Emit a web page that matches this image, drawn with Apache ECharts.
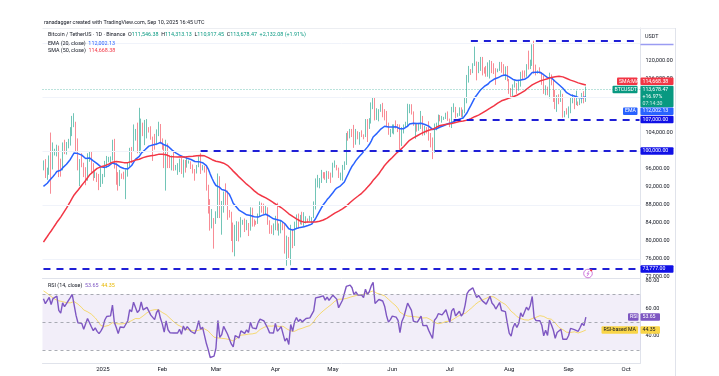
<!DOCTYPE html>
<html><head><meta charset="utf-8">
<script src="https://cdn.jsdelivr.net/npm/echarts@6/dist/echarts.min.js"></script>
<style>html,body{margin:0;padding:0;background:#fff}#c{width:719px;height:376px}</style>
</head><body><div id="c"></div>
<script>
const FONT = 'Roboto, "Liberation Sans", sans-serif';
const K = 1000;
// Daily closes before the visible range (12 Oct - 30 Nov 2024), only used to warm up EMA/SMA/RSI (thousand USDT)
const priorCloses = [63.2,62.9,66.0,67.0,67.6,67.4,68.4,68.4,69.0,67.4,67.4,66.7,68.2,66.6,67.0,67.9,69.9,72.7,72.3,70.2,
69.5,69.4,68.8,67.8,69.4,75.6,75.9,76.5,76.7,80.4,88.7,88.0,90.5,87.4,91.1,90.6,89.9,90.5,92.3,94.3,98.4,98.9,97.7,98.0,93.0,91.9,95.9,95.6,97.5,96.4];
const firstOpen = 96.4;
// Visible daily candles, 1 Dec 2024 - 10 Sep 2025 (thousand USDT); open = previous close
const closes = [
97.2,95.9,96.0,98.8,97.0,99.9,99.9,101.1,97.4,96.6,101.1,100.0,101.4,101.4,104.3,106.1,106.1,100.2,97.5,97.8,97.3,95.1,94.7,98.7,99.4,95.8,94.2,95.1,93.7,92.8,93.6,
94.6,96.9,98.1,98.2,98.3,102.1,96.9,95.0,92.5,94.7,94.6,94.5,94.5,96.5,100.5,99.9,104.1,104.5,101.3,102.2,106.1,103.7,103.9,104.8,104.7,102.6,102.1,101.3,103.7,104.7,102.4,
100.6,97.7,101.4,97.9,96.6,96.6,96.5,96.5,96.5,97.4,95.8,97.9,96.6,97.5,97.6,96.1,95.8,95.5,96.6,98.3,96.1,96.6,96.3,91.5,88.7,84.3,84.7,84.4,
86.1,94.3,86.1,87.2,90.6,89.9,86.7,86.2,80.7,78.5,82.9,83.7,81.1,84.0,84.3,82.6,84.0,82.7,86.8,84.2,84.1,83.8,86.1,87.5,87.4,86.9,87.2,84.4,82.6,82.4,82.5,
85.2,82.5,83.1,83.8,83.5,78.4,79.2,76.3,82.6,79.6,83.4,85.3,83.7,84.6,83.6,84.0,84.9,84.5,85.1,85.2,87.5,93.4,93.7,93.9,94.7,94.6,93.7,95.0,94.3,94.2,
96.5,96.9,96.0,94.3,94.7,96.8,97.0,103.2,102.9,104.6,104.1,102.8,104.1,103.5,103.7,103.6,103.2,106.5,105.6,106.8,109.6,111.7,107.3,107.8,109.0,109.4,108.9,107.8,105.6,103.9,104.6,
105.6,105.8,105.4,104.7,101.5,104.3,105.6,105.7,110.3,110.3,108.6,105.7,106.1,105.4,105.6,107.1,104.6,104.9,104.6,103.3,102.1,100.9,105.3,106.0,107.3,106.9,107.0,107.3,108.4,107.1,
105.7,108.8,109.6,107.9,108.2,109.2,108.2,108.9,111.3,115.9,117.5,117.4,119.1,119.8,117.7,118.6,119.2,117.9,117.8,117.3,117.4,119.9,118.7,118.3,117.6,117.9,119.4,118.0,117.8,117.8,115.7,
113.3,112.5,114.2,115.1,114.1,115.0,117.5,116.7,116.5,119.3,118.7,120.1,123.3,118.3,117.4,117.5,117.4,116.2,112.9,114.3,112.5,116.9,115.4,113.5,110.1,111.8,111.3,112.6,108.4,108.8,108.2,
109.2,111.2,111.7,110.7,110.7,110.2,111.1,112.1,111.546,113.678];
const highs = [
97.9,98.2,96.3,99.0,104.1,101.9,100.5,101.4,101.2,98.3,101.9,102.5,102.0,102.7,105.3,107.8,108.4,106.5,102.8,98.2,99.5,97.4,96.4,99.5,99.9,99.9,97.3,95.5,95.2,94.9,96.2,
94.9,97.8,98.9,98.7,98.8,102.5,102.7,97.3,95.3,95.8,95.0,95.4,95.9,97.4,100.7,100.9,105.9,104.9,106.3,109.6,107.2,106.3,106.9,107.1,105.3,105.5,103.2,103.8,104.8,106.5,106.0,
102.8,101.5,102.5,101.7,99.0,99.0,100.1,96.9,97.3,98.3,98.5,98.1,98.0,98.8,97.9,97.7,97.0,96.0,96.9,98.8,99.5,96.9,96.7,96.5,92.5,89.3,87.1,85.1,
86.6,95.0,94.4,88.9,91.0,92.8,91.2,86.9,86.5,84.1,83.6,84.4,84.3,85.3,84.7,85.0,84.7,84.0,87.5,87.4,84.8,84.5,86.1,88.8,88.5,88.3,87.8,87.5,84.6,83.5,83.9,
85.6,88.5,83.9,84.7,84.2,83.8,81.2,80.9,83.6,82.7,84.3,85.9,86.1,85.8,86.5,86.4,85.5,85.0,85.6,85.3,88.8,93.9,94.7,94.0,95.8,95.3,95.3,95.6,95.5,95.2,
97.4,97.9,96.9,96.3,95.2,96.9,97.7,104.0,104.4,104.9,104.9,105.8,104.9,104.4,104.2,104.6,103.7,107.1,107.1,107.3,110.8,112.0,111.9,109.5,109.3,110.4,110.7,109.3,108.9,106.3,104.9,
105.9,105.9,106.8,106.0,105.9,105.3,105.9,106.5,110.5,110.4,110.4,108.8,106.2,106.2,106.0,108.9,107.8,105.6,105.3,106.6,104.0,103.0,106.1,106.3,108.1,108.0,107.8,107.6,108.5,108.8,
107.2,109.8,110.6,109.8,108.4,109.7,109.7,109.2,111.9,116.9,118.9,118.2,119.5,123.2,119.9,119.8,120.9,120.9,118.6,118.9,119.7,120.2,120.0,119.5,118.4,118.3,119.8,119.8,119.3,118.8,118.9,
116.0,114.0,114.8,115.7,115.1,115.7,117.6,117.9,117.9,119.3,122.3,120.3,123.7,124.5,119.2,117.9,118.6,117.5,116.8,114.6,114.3,117.4,117.0,115.8,113.6,112.4,112.6,113.5,112.7,108.9,109.5,
109.9,111.8,112.6,112.2,113.4,111.0,111.6,112.9,113.3,114.313];
const lows = [
95.7,94.0,93.6,94.7,90.5,95.9,99.0,98.8,94.2,94.3,95.7,99.3,99.2,100.6,101.2,103.3,105.3,100.0,95.7,92.2,96.4,94.2,92.4,93.4,97.6,95.2,93.4,94.0,93.1,91.3,92.0,
92.7,94.2,96.2,97.5,97.3,97.9,96.1,92.5,91.2,92.2,93.8,93.7,89.3,94.3,96.5,97.3,99.9,102.3,99.5,99.5,100.1,103.3,101.3,102.8,104.1,102.5,97.8,100.3,101.3,103.3,101.6,
100.3,96.2,91.2,96.2,96.2,95.7,95.6,95.7,94.7,95.3,94.9,94.1,95.2,96.3,97.2,96.0,95.0,93.4,95.0,96.4,94.9,95.7,95.2,91.2,86.1,82.3,82.8,78.3,
83.8,85.1,85.1,81.4,86.3,87.8,84.7,85.2,80.0,77.5,76.6,80.0,79.9,80.8,83.6,82.0,82.4,81.1,82.3,83.2,83.2,83.6,83.8,85.5,86.3,85.9,85.8,83.6,81.6,81.6,81.3,
82.4,82.3,81.2,81.7,82.4,77.2,74.5,76.2,74.6,78.4,78.9,82.7,82.8,83.7,83.6,83.1,83.9,84.1,84.4,83.9,85.1,87.0,91.9,91.7,92.9,93.9,93.6,92.9,93.8,92.9,
94.1,96.3,95.7,94.0,93.5,93.4,95.8,96.9,102.3,102.8,103.1,100.7,101.4,102.6,101.4,103.1,102.6,103.1,102.0,104.9,106.1,109.3,106.8,106.9,106.6,108.7,107.5,106.8,105.3,103.6,103.1,
103.9,103.7,105.0,104.2,100.4,101.1,103.9,105.1,105.3,108.4,108.1,105.6,102.7,104.3,104.5,104.9,103.4,103.5,103.9,102.3,100.8,98.2,99.6,104.6,105.5,106.6,106.3,106.9,107.1,106.7,
105.3,105.1,108.6,107.3,107.6,107.8,107.5,107.4,108.4,110.6,115.2,116.9,117.3,118.9,115.7,117.3,117.8,116.8,117.2,116.5,116.5,116.1,117.3,117.1,114.7,117.5,117.8,117.4,116.9,115.8,115.5,
112.7,112.0,112.2,114.1,112.7,113.4,114.3,115.9,116.3,116.5,118.1,118.2,118.9,117.2,116.8,117.2,117.2,114.7,112.7,112.4,112.4,111.7,114.6,110.9,109.3,108.7,110.4,110.9,107.4,107.5,108.1,
107.3,108.4,110.6,109.3,110.2,110.0,110.2,110.6,110.6,110.917];

const priceTicks = [72000,76000,80000,84000,88000,92000,96000,100000,104000,116000,120000];
const gridPrices = [76000,88000,100000,112000,124000];
const rsiTicks = [40,60,80];
const rsiLevels = [70,50,30];
const monthTicks = ['2025','Feb','Mar','Apr','May','Jun','Jul','Aug','Sep','Oct'];
const levelLines = [
  {value:124474, from:'2025-07-12', tag:null},
  {value:107000, from:'2025-07-03', tag:'107,000.00'},
  {value:100000, from:'2025-02-21', tag:'100,000.00'},
  {value:73777,  from:'2024-12-01', tag:'73,777.00'}
];
const lastPrice = 113678.47, lastSMA = 114668.38, lastEMA = 112002.13, lastRSI = 53.65, lastRSIMA = 44.35;

// categories: one per day, through 8 Oct 2025 (empty future space)
const categories = [];
for (let t = Date.UTC(2024,11,1); t <= Date.UTC(2025,9,8); t += 86400000) categories.push(new Date(t).toISOString().slice(0,10));
const lastIdx = categories.length - 1;

const candles = closes.map((c,i) => [(i === 0 ? firstOpen : closes[i-1]) * K, c * K, lows[i] * K, highs[i] * K]);

// indicators
const all = priorCloses.concat(closes);
const P = priorCloses.length;
function sma(arr, n) { return arr.map((v,i) => { if (i < n-1) return null; let s = 0, ok = true; for (let j = i-n+1; j <= i; j++) { if (arr[j] == null) ok = false; s += arr[j]; } return ok ? s/n : null; }); }
function ema(arr, n) { const a = 2/(n+1); let e = null; return arr.map((v,i) => { if (i < n-1) return null; if (i === n-1) { e = arr.slice(0,n).reduce((s,x)=>s+x,0)/n; return e; } e = a*v + (1-a)*e; return e; }); }
function rsi(arr, n) { const out = [null]; let ag = 0, al = 0; for (let i = 1; i < arr.length; i++) { const d = arr[i]-arr[i-1]; const g = Math.max(d,0), l = Math.max(-d,0); if (i <= n) { ag += g/n; al += l/n; out.push(i === n ? 100 - 100/(1+ag/al) : null); } else { ag = (ag*(n-1)+g)/n; al = (al*(n-1)+l)/n; out.push(al === 0 ? 100 : 100 - 100/(1+ag/al)); } } return out; }
const ema20 = ema(all, 20).slice(P).map(v => v * K);
const sma50 = sma(all, 50).slice(P).map(v => v * K);
const rsiAll = rsi(all, 14);
const rsi14 = rsiAll.slice(P);
const rsiMA = sma(rsiAll, 14).slice(P);

const fmt = v => v.toLocaleString('en-US', {minimumFractionDigits:2, maximumFractionDigits:2});
const LEVEL_COLOR = '#1f1fd6';

const option = {
  animation: false,
  backgroundColor: '#ffffff',
  grid: [
    {left: 42.5, top: 28, width: 598, height: 250},
    {left: 42.5, top: 278, width: 598, height: 85}
  ],
  xAxis: [
    {type:'category', gridIndex:0, data:categories, boundaryGap:true,
     axisLabel:{show:false}, axisTick:{show:false}, splitLine:{show:false},
     axisLine:{show:true, lineStyle:{color:'#e0e3eb', width:1}}},
    {type:'category', gridIndex:1, data:categories, boundaryGap:true,
     axisTick:{show:false}, splitLine:{show:false},
     axisLine:{show:true, lineStyle:{color:'#e0e3eb', width:1}},
     axisLabel:{interval:(i,v) => i > 0 && v.slice(8) === '01', formatter:v => monthTicks[+v.slice(5,7)-1],
       fontSize:6, color:'#131722', margin:3, fontFamily:FONT}}
  ],
  yAxis: [
    {type:'value', gridIndex:0, position:'right', min:71778, max:127333,
     axisLine:{show:true, lineStyle:{color:'#e0e3eb'}}, axisTick:{show:false}, splitLine:{show:false},
     axisLabel:{customValues:priceTicks, formatter:v => fmt(v), fontSize:5.5, color:'#131722', margin:5, fontFamily:FONT}},
    {type:'value', gridIndex:1, position:'right', min:20.67, max:81.7,
     axisLine:{show:true, lineStyle:{color:'#e0e3eb'}}, axisTick:{show:false}, splitLine:{show:false},
     axisLabel:{customValues:rsiTicks, formatter:v => v.toFixed(2), fontSize:5.5, color:'#131722', margin:5, fontFamily:FONT}}
  ],
  series: [
    {type:'line', xAxisIndex:0, yAxisIndex:0, data:[null], silent:true, z:1,
     markLine:{symbol:['none','none'], silent:true, label:{show:false},
       lineStyle:{color:'#f0f3fa', width:1, type:'solid'},
       data: gridPrices.map(v => ({yAxis:v}))}},
    {type:'candlestick', xAxisIndex:0, yAxisIndex:0, data:candles, barWidth:1, z:2,
     itemStyle:{color:'#089981', color0:'#f23645', borderColor:'#089981', borderColor0:'#f23645', borderWidth:0.8, opacity:0.72},
     markLine:{symbol:['none','none'], silent:true, label:{show:false},
       lineStyle:{color:LEVEL_COLOR, width:2, type:[7,6]},
       data: [{yAxis:lastPrice, lineStyle:{type:[1,2], color:'#089981', width:1, opacity:0.55}}].concat(
         levelLines.map(l => [{coord:[categories.indexOf(l.from), l.value]}, {coord:[lastIdx, l.value]}]))}},
    {type:'line', name:'EMA', xAxisIndex:0, yAxisIndex:0, data:ema20, showSymbol:false, z:3,
     lineStyle:{color:'#2962ff', width:1.5}},
    {type:'line', name:'SMA', xAxisIndex:0, yAxisIndex:0, data:sma50, showSymbol:false, z:3,
     lineStyle:{color:'#f23645', width:1.5}},
    {type:'line', name:'RSI-MA', xAxisIndex:1, yAxisIndex:1, data:rsiMA, showSymbol:false, z:3,
     lineStyle:{color:'#f7c600', width:1, opacity:0.55}},
    {type:'line', name:'RSI', xAxisIndex:1, yAxisIndex:1, data:rsi14, showSymbol:false, z:4,
     lineStyle:{color:'#7e57c2', width:1.4},
     markArea:{silent:true, itemStyle:{color:'rgba(126,87,194,0.1)'}, data:[[{yAxis:rsiLevels[0]},{yAxis:rsiLevels[2]}]]},
     markLine:{symbol:['none','none'], silent:true, label:{show:false},
       lineStyle:{color:'#9598a1', width:0.8, type:[3,3]},
       data: rsiLevels.map(v => ({yAxis:v}))}}
  ]
};

const chart = echarts.init(document.getElementById('c'), null, {renderer:'canvas'});
chart.setOption(option);

const yOf = v => chart.convertToPixel({yAxisIndex:0}, v);
const yR = v => chart.convertToPixel({yAxisIndex:1}, v);
const TF = 5.2;
function tag(x, yc, w, h, fill, text, color) {
  return [
    {type:'rect', shape:{x:x, y:yc-h/2, width:w, height:h, r:1}, style:{fill:fill}, z:100},
    {type:'text', x:x+2, y:yc, style:{text:text, fill:color||'#fff', fontSize:TF, fontFamily:FONT, verticalAlign:'middle', textVerticalAlign:'middle', align:'left'}, z:101}
  ];
}
function txt(x, y, text, fill, size, extra) {
  return {type:'text', x:x, y:y, z:100, style:Object.assign({text:text, fill:fill||'#131722', fontSize:size||5.4, fontFamily:FONT, verticalAlign:'middle', textVerticalAlign:'middle'}, extra||{})};
}
const g = [];
// header & legends
g.push(txt(44, 23, 'ranadagger created with TradingView.com, Sep 10, 2025 16:45 UTC', '#131722', 5.4));
g.push({type:'text', x:48, y:35, z:100, style:{
  text:'{d|Bitcoin / TetherUS · 1D · Binance}  {d|O}{g|111,546.38}  {d|H}{g|114,313.13}  {d|L}{g|110,917.45}  {d|C}{g|113,678.47}  {g|+2,132.08 (+1.91%)}',
  fontSize:5.4, fontFamily:FONT, verticalAlign:'middle', textVerticalAlign:'middle',
  rich:{d:{fill:'#131722', fontSize:5.4, fontFamily:FONT}, g:{fill:'#089981', fontSize:5.4, fontFamily:FONT}}}});
g.push({type:'text', x:48, y:43.3, z:100, style:{text:'{d|EMA (20, close)}  {b|112,002.13}', fontSize:5.4, fontFamily:FONT, verticalAlign:'middle', textVerticalAlign:'middle',
  rich:{d:{fill:'#131722', fontSize:5.4, fontFamily:FONT}, b:{fill:'#2962ff', fontSize:5.4, fontFamily:FONT}}}});
g.push({type:'text', x:48, y:51, z:100, style:{text:'{d|SMA (50, close)}  {r|114,668.38}', fontSize:5.4, fontFamily:FONT, verticalAlign:'middle', textVerticalAlign:'middle',
  rich:{d:{fill:'#131722', fontSize:5.4, fontFamily:FONT}, r:{fill:'#f23645', fontSize:5.4, fontFamily:FONT}}}});
g.push({type:'text', x:48, y:285.7, z:100, style:{text:'{d|RSI (14, close)}  {p|53.65}  {y|44.35}', fontSize:5.4, fontFamily:FONT, verticalAlign:'middle', textVerticalAlign:'middle',
  rich:{d:{fill:'#131722', fontSize:5.4, fontFamily:FONT}, p:{fill:'#7e57c2', fontSize:5.4, fontFamily:FONT}, y:{fill:'#e8b800', fontSize:5.4, fontFamily:FONT}}}});
// frame lines
g.push({type:'line', shape:{x1:42.5, y1:28.5, x2:675.5, y2:28.5}, style:{stroke:'#eceef2', lineWidth:1}, z:50});
g.push({type:'line', shape:{x1:675.5, y1:28, x2:675.5, y2:376}, style:{stroke:'#e0e3eb', lineWidth:1}, z:50});
// USDT header on scale
g.push(txt(645, 36.7, 'USDT', '#131722', 5.4));
g.push({type:'rect', shape:{x:640.5, y:43.8, width:33, height:1.4}, style:{fill:'#9a9cf2'}, z:100});
// price scale tags
const yP = yOf(lastPrice);
const gTop = yP - 3.8, gH = 21.5;
g.push({type:'rect', shape:{x:640.5, y:gTop, width:33, height:gH, r:1}, style:{fill:'#089981'}, z:100});
g.push(txt(642.5, gTop + 3.7, fmt(lastPrice), '#fff', TF));
g.push(txt(642.5, gTop + 10.7, '+16.97%', '#fff', TF));
g.push(txt(642.5, gTop + 17.6, '07:14:30', 'rgba(255,255,255,0.8)', TF));
g.push(...tag(612.5, yP, 25, 7.5, '#089981', 'BTCUSDT'));
const ySMA = Math.min(yOf(lastSMA), gTop - 4.3);
g.push(...tag(640.5, ySMA, 33, 7.5, '#f23645', fmt(lastSMA)));
g.push(...tag(617, ySMA, 20.5, 7.5, '#f23645', 'SMA:MA'));
const yEMA = Math.max(yOf(lastEMA), gTop + gH + 4);
g.push(...tag(640.5, yEMA, 33, 7.5, '#2962ff', fmt(lastEMA)));
g.push(...tag(623, yEMA, 14.5, 7.5, '#2962ff', 'EMA'));
levelLines.filter(l => l.tag).forEach(l => g.push(...tag(640.5, yOf(l.value), 33, 7.5, '#1010e6', l.tag)));
// RSI tags
const yr = yR(lastRSI), ym = yR(lastRSIMA);
g.push(...tag(640.5, yr, 19.5, 7.5, '#7e57c2', lastRSI.toFixed(2)));
g.push(...tag(628, yr, 10.5, 7.5, '#7e57c2', 'RSI'));
g.push(...tag(640.5, ym, 19.5, 7.5, '#f9d548', lastRSIMA.toFixed(2), '#131722'));
g.push(...tag(601.5, ym, 36.5, 7.5, '#f9d548', 'RSI-based MA', '#131722'));
// event icon near the 73,777 level
const yIcon = yOf(73777) + 4.5;
g.push({type:'circle', shape:{cx:588, cy:yIcon, r:4.3}, style:{fill:'#fff', stroke:'#c86bd6', lineWidth:0.9}, z:100});
g.push({type:'polyline', shape:{points:[[589.2,yIcon-2.6],[587,yIcon+0.3],[589,yIcon+0.1],[586.8,yIcon+2.8]]}, style:{stroke:'#c86bd6', lineWidth:0.8, fill:null}, z:101});
g.push({type:'circle', shape:{cx:591.2, cy:yIcon-3.2, r:1.1}, style:{fill:'#f23645'}, z:102});

chart.setOption({graphic: g});
</script></body></html>
